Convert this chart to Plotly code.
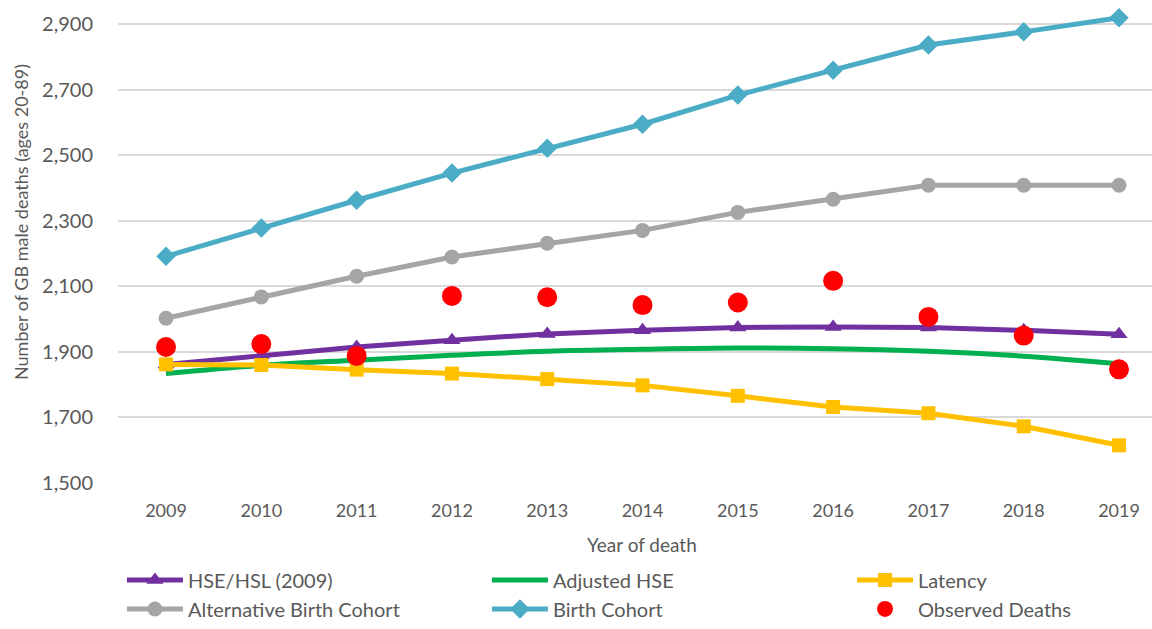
import plotly.graph_objects as go

years = [2009, 2010, 2011, 2012, 2013, 2014, 2015, 2016, 2017, 2018, 2019]

hse_hsl = [1862, 1890, 1915, 1936, 1955, 1966, 1975, 1976, 1975, 1966, 1954]
adjusted_hse = [1834, 1859, 1875, 1890, 1902, 1908, 1912, 1910, 1902, 1887, 1864]
latency = [1862, 1860, 1846, 1834, 1817, 1798, 1766, 1732, 1713, 1673, 1615]
alt_birth_cohort = [2003, 2068, 2131, 2190, 2232, 2271, 2326, 2366, 2409, 2409, 2409]
birth_cohort = [2192, 2278, 2363, 2446, 2522, 2595, 2684, 2760, 2837, 2877, 2920]
observed = [1915, 1924, 1888, 2071, 2067, 2043, 2051, 2117, 2007, 1950, 1847]

y_ticks = [1500, 1700, 1900, 2100, 2300, 2500, 2700, 2900]

FONT = "Lato"
GREY_TEXT = "#595959"

fig = go.Figure()

# legend is split in two: first two columns in "legend", last column in "legend2"
fig.add_trace(go.Scatter(
    x=years, y=hse_hsl, name="HSE/HSL (2009)", mode="lines+markers",
    line=dict(color="#7030A0", width=5),
    marker=dict(symbol="triangle-up", size=15, color="#7030A0"),
    legend="legend",
))
fig.add_trace(go.Scatter(
    x=years, y=adjusted_hse, name="Adjusted HSE", mode="lines",
    line=dict(color="#00B050", width=5, shape="spline"),
    legend="legend",
))
fig.add_trace(go.Scatter(
    x=years, y=latency, name="Latency", mode="lines+markers",
    line=dict(color="#FFC000", width=5),
    marker=dict(symbol="square", size=14, color="#FFC000"),
    legend="legend2",
))
fig.add_trace(go.Scatter(
    x=years, y=alt_birth_cohort, name="Alternative Birth Cohort", mode="lines+markers",
    line=dict(color="#A5A5A5", width=5),
    marker=dict(symbol="circle", size=15, color="#A5A5A5"),
    legend="legend",
))
fig.add_trace(go.Scatter(
    x=years, y=birth_cohort, name="Birth Cohort", mode="lines+markers",
    line=dict(color="#4BACC6", width=5),
    marker=dict(symbol="diamond", size=15, color="#4BACC6"),
    legend="legend",
))
fig.add_trace(go.Scatter(
    x=years, y=observed, name="Observed Deaths", mode="markers",
    marker=dict(symbol="circle", size=20, color="#FF0000"),
    legend="legend2",
))

fig.update_xaxes(
    range=[2008.496, 2019.346],
    tickvals=years,
    showgrid=False, zeroline=False, showline=False,
    tickfont=dict(size=18, color=GREY_TEXT),
    ticklabelstandoff=15,
)
fig.update_yaxes(
    range=[1500, 2959],
    tickvals=y_ticks,
    tickformat=",",
    showgrid=True, gridcolor="#D9D9D9", gridwidth=1.5,
    zeroline=False, showline=False,
    tickfont=dict(size=20, color=GREY_TEXT),
    ticklabelstandoff=24,
)

# axis titles as annotations so they sit where the original has them
fig.add_annotation(
    text="Number of GB male deaths (ages 20-89)",
    xref="paper", yref="paper", x=-0.0938, y=0.546,
    xanchor="center", yanchor="middle",
    textangle=-90, showarrow=False,
    font=dict(size=18, color=GREY_TEXT),
)
fig.add_annotation(
    text="Year of death",
    xref="paper", yref="paper", x=0.507, y=-0.128,
    xanchor="center", yanchor="middle", showarrow=False,
    font=dict(size=19, color=GREY_TEXT),
)

legend_common = dict(
    yanchor="top", y=-0.162,
    entrywidth=294, entrywidthmode="pixels", itemwidth=56,
    font=dict(size=20, color=GREY_TEXT), tracegroupgap=0,
    bgcolor="rgba(0,0,0,0)",
)

fig.update_layout(
    width=1152, height=629,
    margin=dict(l=118, r=0, t=5, b=146),
    plot_bgcolor="white", paper_bgcolor="white",
    font=dict(family=FONT, color=GREY_TEXT),
    showlegend=True,
    legend=dict(orientation="h", x=0.0038, xanchor="left", **legend_common),
    legend2=dict(orientation="v", x=0.7099, xanchor="left", **legend_common),
)

fig.write_html(
    "out.html",
    config={"displayModeBar": False},
    post_script="document.body.style.margin='0';",
)
